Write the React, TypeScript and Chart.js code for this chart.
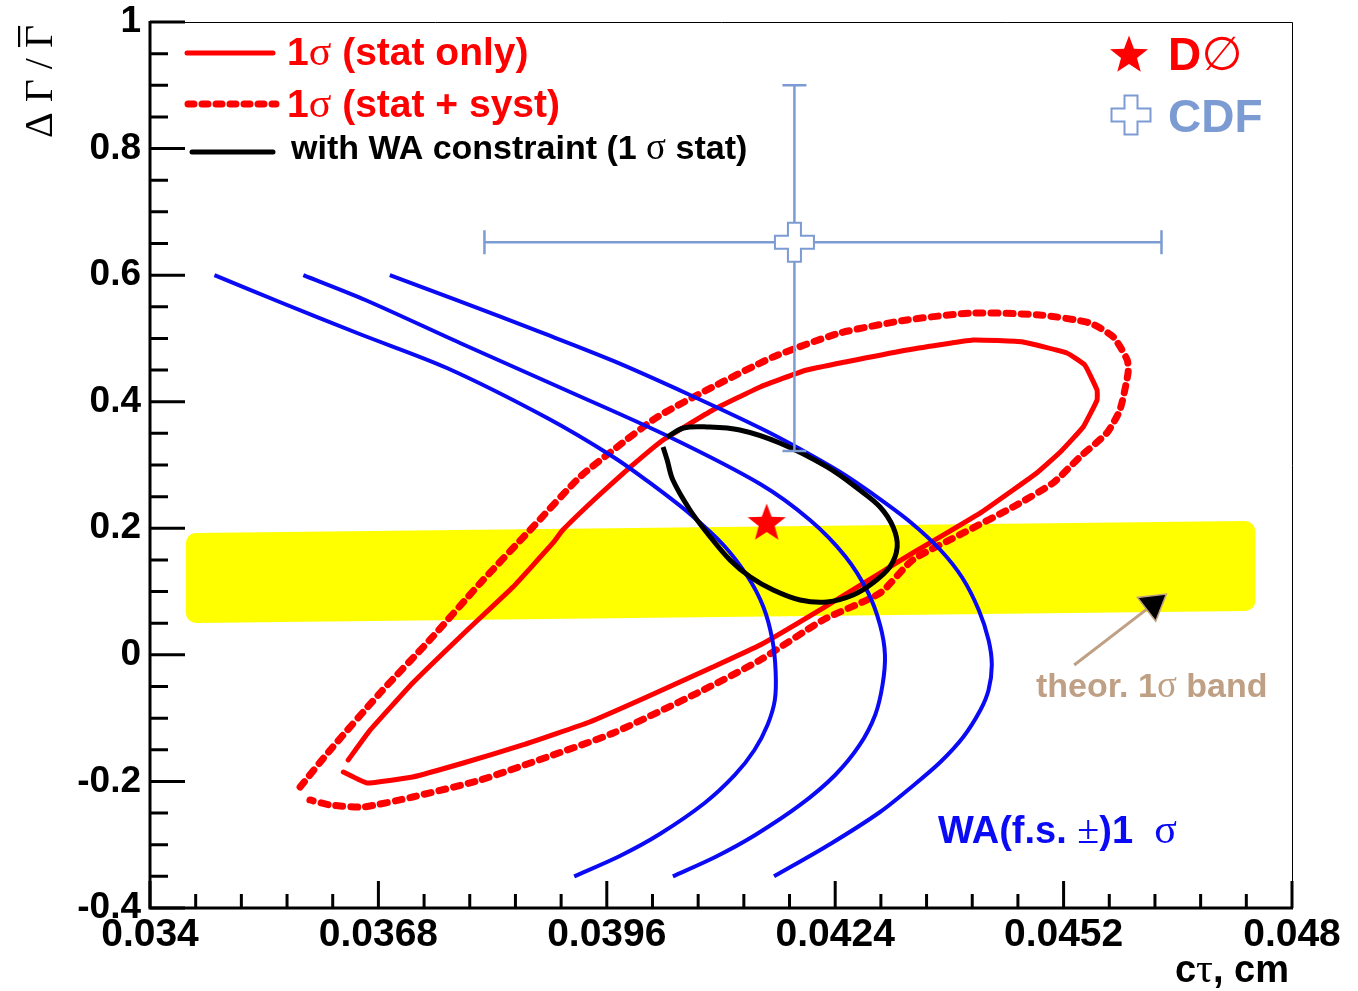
import React, { useEffect, useRef } from 'react';
import { Chart, registerables } from 'chart.js';

Chart.register(...registerables);

// ---- axes ----
const X_MIN = 0.034;
const X_MAX = 0.048;
const Y_MIN = -0.4;
const Y_MAX = 1.0;
const X_TICKS = [0.034, 0.0368, 0.0396, 0.0424, 0.0452, 0.048];
const X_TICK_LABELS = ['0.034', '0.0368', '0.0396', '0.0424', '0.0452', '0.048'];
const Y_TICKS = [-0.4, -0.2, 0, 0.2, 0.4, 0.6, 0.8, 1];
const Y_TICK_LABELS = ['-0.4', '-0.2', '0', '0.2', '0.4', '0.6', '0.8', '1'];
const X_DIVISIONS = 5;
const Y_DIVISIONS = 4;

// ---- DØ 1σ contour, statistical errors only (ct [cm], ΔΓ/Γ) ----
const STAT_ONLY: [number, number][] = [
  [0.03643, -0.1661], [0.03670, -0.1187], [0.03722, -0.0445], [0.03789, 0.0393],
  [0.03845, 0.1072], [0.03894, 0.1768], [0.03906, 0.1973], [0.03948, 0.2495],
  [0.03989, 0.2969], [0.04029, 0.3395], [0.04090, 0.3869], [0.04148, 0.4233],
  [0.04205, 0.4501], [0.04328, 0.4817], [0.04409, 0.4975], [0.04470, 0.4944],
  [0.04524, 0.4770], [0.04546, 0.4580], [0.04561, 0.4185], [0.04561, 0.4027],
  [0.04544, 0.3601], [0.04516, 0.3206], [0.04487, 0.2874], [0.04458, 0.2605],
  [0.04418, 0.2242], [0.04377, 0.1926], [0.04335, 0.1610], [0.04295, 0.1293],
  [0.04225, 0.0740], [0.04148, 0.0156], [0.04090, -0.0192], [0.04009, -0.0666],
  [0.03939, -0.1061], [0.03857, -0.1424], [0.03784, -0.1709], [0.03722, -0.1930],
  [0.03666, -0.2025], [0.03637, -0.1851],
];

// ---- DØ 1σ contour, statistical + systematic ----
const STAT_SYST: [number, number][] = [
  [0.03584, -0.2088], [0.03621, -0.1503], [0.03682, -0.0603], [0.03743, 0.0235],
  [0.03805, 0.1135], [0.03866, 0.1973], [0.03927, 0.2811], [0.03968, 0.3237],
  [0.04022, 0.3759], [0.04090, 0.4233], [0.04164, 0.4707], [0.04246, 0.5087],
  [0.04328, 0.5292], [0.04409, 0.5402], [0.04491, 0.5371], [0.04552, 0.5244],
  [0.04581, 0.5023], [0.04598, 0.4659], [0.04599, 0.4454], [0.04589, 0.3869],
  [0.04573, 0.3506], [0.04540, 0.3127], [0.04507, 0.2716], [0.04458, 0.2337],
  [0.04397, 0.1926], [0.04335, 0.1499], [0.04295, 0.0977], [0.04225, 0.0551],
  [0.04148, -0.0081], [0.04071, -0.0603], [0.03968, -0.1235], [0.03887, -0.1614],
  [0.03805, -0.1977], [0.03722, -0.2246], [0.03661, -0.2404], [0.03621, -0.2372],
  [0.03596, -0.2293],
];

// ---- 1σ stat contour with the world-average constraint ----
const WA_CONSTRAINED: [number, number][] = [
  [0.04034, 0.3443], [0.04054, 0.3585], [0.04083, 0.3601], [0.04123, 0.3553],
  [0.04172, 0.3348], [0.04230, 0.2969], [0.04270, 0.2605], [0.04295, 0.2337],
  [0.04311, 0.2021], [0.04316, 0.1704], [0.04307, 0.1389], [0.04286, 0.1135],
  [0.04262, 0.0946], [0.04230, 0.0835], [0.04197, 0.0867], [0.04164, 0.1025],
  [0.04136, 0.1230], [0.04111, 0.1499], [0.04083, 0.1926], [0.04062, 0.2289],
  [0.04041, 0.2763], [0.04034, 0.3079], [0.04029, 0.3285],
];

// ---- WA (flavour-specific ±1σ) curves ----
const WA_LOW: [number, number][] = [
  [0.03479, 0.600], [0.03559, 0.5576], [0.03657, 0.5070], [0.03764, 0.4533],
  [0.03887, 0.3743], [0.03968, 0.3127], [0.04013, 0.2716], [0.04062, 0.2226],
  [0.04103, 0.1736], [0.04133, 0.1230], [0.04152, 0.0756], [0.04163, 0.0235],
  [0.04167, -0.0271], [0.04166, -0.0713], [0.04157, -0.1108], [0.04141, -0.1503],
  [0.04117, -0.1898], [0.04080, -0.2341], [0.04025, -0.2831], [0.03976, -0.3178],
  [0.03920, -0.350],
];
const WA_MID: [number, number][] = [
  [0.03588, 0.600], [0.03664, 0.5607], [0.03780, 0.4928], [0.03915, 0.4154],
  [0.04037, 0.3443], [0.04148, 0.2700], [0.04209, 0.2131], [0.04252, 0.1562],
  [0.04280, 0.0993], [0.04295, 0.0472], [0.04301, -0.0002], [0.04298, -0.0476],
  [0.04289, -0.0950], [0.04270, -0.1424], [0.04240, -0.1898], [0.04197, -0.2372],
  [0.04142, -0.2846], [0.04093, -0.3194], [0.04041, -0.350],
];
const WA_HIGH: [number, number][] = [
  [0.03694, 0.600], [0.03776, 0.5607], [0.03878, 0.5102], [0.03968, 0.4644],
  [0.04062, 0.4106], [0.04148, 0.3585], [0.04188, 0.3316], [0.04246, 0.2890],
  [0.04286, 0.2542], [0.04332, 0.2100], [0.04369, 0.1657], [0.04396, 0.1215],
  [0.04416, 0.0709], [0.04428, 0.0235], [0.04432, -0.0160], [0.04428, -0.0555],
  [0.04418, -0.0871], [0.04397, -0.1298], [0.04369, -0.1693], [0.04335, -0.2072],
  [0.04295, -0.2483], [0.04234, -0.2988], [0.04165, -0.350],
];

// ---- measurements ----
const D0_POINT: [number, number] = [0.04156, 0.21];
const CDF_POINT: [number, number] = [0.0419, 0.652];
const CDF_ERR_X: [number, number] = [0.0038, 0.0045]; // minus, plus
const CDF_ERR_Y: [number, number] = [0.33, 0.248]; // minus, plus

// ---- theoretical 1σ band ----
const THEORY_X: [number, number] = [0.03444, 0.04755];
const THEORY_MID: [number, number] = [0.1215, 0.1404];
const THEORY_HALF_WIDTH = 0.071;
const ARROW_FROM: [number, number] = [0.04533, -0.016];
const ARROW_TO: [number, number] = [0.04646, 0.096];

// ---- colours & fonts ----
const RED = '#ff0000';
const BLUE = '#0a0af5';
const CDF_BLUE = '#7d9bd3';
const TAN = '#bfa085';
const YELLOW = '#ffff00';
const SANS = '"Liberation Sans", Arial, Helvetica, sans-serif';
const SERIF = '"Liberation Serif", "Times New Roman", serif';
const sansB = (s: number) => `bold ${s}px ${SANS}`;
const serif = (s: number) => `${s}px ${SERIF}`;

const toXY = (pts: [number, number][]) => pts.map(([x, y]) => ({ x, y }));

function makeStar(r: number, color: string): HTMLCanvasElement {
  const c = document.createElement('canvas');
  const s = Math.ceil(2 * r + 4);
  c.width = s;
  c.height = s;
  const g = c.getContext('2d')!;
  g.fillStyle = color;
  g.beginPath();
  for (let i = 0; i < 10; i++) {
    const rad = i % 2 === 0 ? r : r * 0.42;
    const a = -Math.PI / 2 + (i * Math.PI) / 5;
    g.lineTo(s / 2 + rad * Math.cos(a), s / 2 + 1.5 + rad * Math.sin(a));
  }
  g.closePath();
  g.fill();
  return c;
}

function makeCross(half: number, arm: number, color: string): HTMLCanvasElement {
  const c = document.createElement('canvas');
  const s = Math.ceil(2 * half + 4);
  c.width = s;
  c.height = s;
  const g = c.getContext('2d')!;
  const o = s / 2;
  const L = half;
  const a = arm;
  const pts = [
    [-a, -L], [a, -L], [a, -a], [L, -a], [L, a], [a, a],
    [a, L], [-a, L], [-a, a], [-L, a], [-L, -a], [-a, -a],
  ];
  g.beginPath();
  pts.forEach(([px, py], i) => (i ? g.lineTo(o + px, o + py) : g.moveTo(o + px, o + py)));
  g.closePath();
  g.fillStyle = '#ffffff';
  g.fill();
  g.strokeStyle = color;
  g.lineWidth = 2;
  g.stroke();
  return c;
}

type Run = [string, string];
function drawRuns(ctx: CanvasRenderingContext2D, x: number, y: number, runs: Run[], color: string, align: 'left' | 'right' = 'left') {
  ctx.save();
  ctx.fillStyle = color;
  ctx.textBaseline = 'alphabetic';
  ctx.textAlign = 'left';
  let total = 0;
  for (const [t, f] of runs) {
    ctx.font = f;
    total += ctx.measureText(t).width;
  }
  let cx = align === 'right' ? x - total : x;
  for (const [t, f] of runs) {
    ctx.font = f;
    ctx.fillText(t, cx, y);
    cx += ctx.measureText(t).width;
  }
  ctx.restore();
}

export default function App() {
  const canvasRef = useRef<HTMLCanvasElement | null>(null);

  useEffect(() => {
    const canvas = canvasRef.current;
    if (!canvas) return;

    const star = makeStar(20, RED);
    const cross = makeCross(19.5, 6.5, CDF_BLUE);

    // theoretical band under everything
    const theoryBand = {
      id: 'theoryBand',
      beforeDatasetsDraw(chart: any) {
        const { ctx, scales } = chart;
        const xs = scales.x;
        const ys = scales.y;
        const r = 10;
        const xl = xs.getPixelForValue(THEORY_X[0]) + r;
        const xr = xs.getPixelForValue(THEORY_X[1]) - r;
        const tl = ys.getPixelForValue(THEORY_MID[0] + THEORY_HALF_WIDTH) + r;
        const tr = ys.getPixelForValue(THEORY_MID[1] + THEORY_HALF_WIDTH) + r;
        const br = ys.getPixelForValue(THEORY_MID[1] - THEORY_HALF_WIDTH) - r;
        const bl = ys.getPixelForValue(THEORY_MID[0] - THEORY_HALF_WIDTH) - r;
        ctx.save();
        ctx.beginPath();
        ctx.moveTo(xl, tl);
        ctx.lineTo(xr, tr);
        ctx.lineTo(xr, br);
        ctx.lineTo(xl, bl);
        ctx.closePath();
        ctx.fillStyle = YELLOW;
        ctx.strokeStyle = YELLOW;
        ctx.lineWidth = 2 * r;
        ctx.lineJoin = 'round';
        ctx.fill();
        ctx.stroke();
        ctx.restore();
      },
    };

    // CDF error bars, drawn just before the CDF marker
    const errorBars = {
      id: 'errorBars',
      beforeDatasetDraw(chart: any, args: any) {
        if (chart.data.datasets[args.index].label !== 'CDF') return;
        const { ctx, scales } = chart;
        const xs = scales.x;
        const ys = scales.y;
        const cx = xs.getPixelForValue(CDF_POINT[0]);
        const cy = ys.getPixelForValue(CDF_POINT[1]);
        const x0 = xs.getPixelForValue(CDF_POINT[0] - CDF_ERR_X[0]);
        const x1 = xs.getPixelForValue(CDF_POINT[0] + CDF_ERR_X[1]);
        const y0 = ys.getPixelForValue(CDF_POINT[1] - CDF_ERR_Y[0]);
        const y1 = ys.getPixelForValue(CDF_POINT[1] + CDF_ERR_Y[1]);
        const cap = 12;
        ctx.save();
        ctx.strokeStyle = CDF_BLUE;
        ctx.lineWidth = 2.5;
        ctx.beginPath();
        ctx.moveTo(x0, cy); ctx.lineTo(x1, cy);
        ctx.moveTo(cx, y0); ctx.lineTo(cx, y1);
        ctx.moveTo(x0, cy - cap); ctx.lineTo(x0, cy + cap);
        ctx.moveTo(x1, cy - cap); ctx.lineTo(x1, cy + cap);
        ctx.moveTo(cx - cap, y0); ctx.lineTo(cx + cap, y0);
        ctx.moveTo(cx - cap, y1); ctx.lineTo(cx + cap, y1);
        ctx.stroke();
        ctx.restore();
      },
    };

    // arrow pointing at the theory band, frame, ticks, legends and labels
    const decorations = {
      id: 'decorations',
      afterDatasetsDraw(chart: any) {
        const { ctx, scales } = chart;
        const xs = scales.x;
        const ys = scales.y;
        const ax = xs.getPixelForValue(ARROW_FROM[0]);
        const ay = ys.getPixelForValue(ARROW_FROM[1]);
        const bx = xs.getPixelForValue(ARROW_TO[0]);
        const by = ys.getPixelForValue(ARROW_TO[1]);
        const len = Math.hypot(bx - ax, by - ay);
        const ux = (bx - ax) / len;
        const uy = (by - ay) / len;
        const headL = 25;
        const headW = 15;
        const hx = bx - ux * headL;
        const hy = by - uy * headL;
        ctx.save();
        ctx.strokeStyle = TAN;
        ctx.lineWidth = 3;
        ctx.beginPath();
        ctx.moveTo(ax, ay);
        ctx.lineTo(hx, hy);
        ctx.stroke();
        ctx.beginPath();
        ctx.moveTo(bx, by);
        ctx.lineTo(hx - uy * headW, hy + ux * headW);
        ctx.lineTo(hx + uy * headW, hy - ux * headW);
        ctx.closePath();
        ctx.fillStyle = '#000000';
        ctx.fill();
        ctx.lineWidth = 1.5;
        ctx.stroke();
        ctx.restore();
      },
      afterDraw(chart: any) {
        const { ctx, chartArea: a, scales } = chart;
        const xs = scales.x;
        const ys = scales.y;
        ctx.save();
        ctx.strokeStyle = '#000000';
        ctx.lineCap = 'butt';
        // thin top / right frame
        ctx.lineWidth = 1;
        ctx.beginPath();
        ctx.moveTo(a.left, a.top + 0.5);
        ctx.lineTo(a.right + 0.5, a.top + 0.5);
        ctx.lineTo(a.right + 0.5, a.bottom);
        ctx.stroke();
        // axes
        ctx.lineWidth = 3;
        ctx.beginPath();
        ctx.moveTo(a.left, a.top - 1);
        ctx.lineTo(a.left, a.bottom);
        ctx.lineTo(a.right + 1, a.bottom);
        ctx.stroke();
        // x ticks
        const xStep = (X_TICKS[1] - X_TICKS[0]) / X_DIVISIONS;
        const nx = Math.round((X_MAX - X_MIN) / xStep);
        ctx.beginPath();
        for (let i = 0; i <= nx; i++) {
          const px = xs.getPixelForValue(X_MIN + i * xStep);
          const l = i % X_DIVISIONS === 0 ? 27 : 14;
          ctx.moveTo(px, a.bottom);
          ctx.lineTo(px, a.bottom - l);
        }
        // y ticks
        const yStep = (Y_TICKS[1] - Y_TICKS[0]) / Y_DIVISIONS;
        const ny = Math.round((Y_MAX - Y_MIN) / yStep);
        for (let i = 0; i <= ny; i++) {
          const py = ys.getPixelForValue(Y_MIN + i * yStep);
          const l = i % Y_DIVISIONS === 0 ? 35 : 18;
          ctx.moveTo(a.left, py);
          ctx.lineTo(a.left + l, py);
        }
        ctx.stroke();
        ctx.restore();

        // axis titles
        drawRuns(ctx, a.right - 3, 982, [['c', sansB(38)], ['τ', serif(42)], [', cm', sansB(38)]], '#000000', 'right');
        ctx.save();
        ctx.translate(52, 138);
        ctx.rotate(-Math.PI / 2);
        ctx.font = serif(40);
        ctx.fillStyle = '#000000';
        ctx.textBaseline = 'alphabetic';
        ctx.textAlign = 'left';
        const pre = 'Δ Γ / ';
        ctx.fillText(pre + 'Γ', 0, 0);
        const w0 = ctx.measureText(pre).width;
        const wg = ctx.measureText('Γ').width;
        ctx.fillRect(w0 + 1, -34, wg - 2, 2.2);
        ctx.restore();

        // top-left legend
        ctx.save();
        ctx.lineCap = 'round';
        ctx.strokeStyle = RED;
        ctx.lineWidth = 5;
        ctx.beginPath();
        ctx.moveTo(187, 53);
        ctx.lineTo(273, 53);
        ctx.stroke();
        ctx.lineWidth = 7;
        ctx.setLineDash([6, 8]);
        ctx.beginPath();
        ctx.moveTo(188, 104);
        ctx.lineTo(276, 104);
        ctx.stroke();
        ctx.setLineDash([]);
        ctx.strokeStyle = '#000000';
        ctx.lineWidth = 5;
        ctx.beginPath();
        ctx.moveTo(192, 152);
        ctx.lineTo(273, 152);
        ctx.stroke();
        ctx.restore();
        drawRuns(ctx, 287, 65, [['1', sansB(39)], ['σ', serif(42)], [' (stat only)', sansB(39)]], RED);
        drawRuns(ctx, 287, 117, [['1', sansB(39)], ['σ', serif(42)], [' (stat + syst)', sansB(39)]], RED);
        drawRuns(ctx, 291, 159, [['with WA constraint (1 ', sansB(34)], ['σ', serif(37)], [' stat)', sansB(34)]], '#000000');

        // top-right legend
        ctx.drawImage(star, 1129 - star.width / 2, 54 - star.height / 2);
        ctx.drawImage(cross, 1131 - cross.width / 2, 115 - cross.height / 2);
        drawRuns(ctx, 1168, 70, [['D', sansB(46)], ['∅', `47px "DejaVu Sans", sans-serif`]], RED);
        drawRuns(ctx, 1168, 132, [['CDF', sansB(46)]], CDF_BLUE);

        // annotations
        drawRuns(ctx, 1036, 697, [['theor. 1', sansB(34)], ['σ', serif(37)], [' band', sansB(34)]], TAN);
        drawRuns(ctx, 938, 843, [['WA(f.s. ', sansB(38)], ['±', serif(40)], [')1  ', sansB(38)], ['σ', serif(42)]], BLUE);
      },
    };

    const chart = new Chart(canvas, {
      type: 'scatter',
      data: {
        datasets: [
          {
            label: 'DØ',
            data: toXY([D0_POINT]),
            pointStyle: star as any,
            pointRadius: 10,
            showLine: false,
            order: 0,
          },
          {
            label: 'CDF',
            data: toXY([CDF_POINT]),
            pointStyle: cross as any,
            pointRadius: 10,
            showLine: false,
            order: 1,
          },
          {
            label: 'with WA constraint (1 σ stat)',
            data: toXY(WA_CONSTRAINED),
            showLine: true,
            borderColor: '#000000',
            borderWidth: 5,
            pointRadius: 0,
            tension: 0.35,
            order: 2,
          },
          ...[WA_LOW, WA_MID, WA_HIGH].map((pts, i) => ({
            label: `WA(f.s.±)1 σ ${i}`,
            data: toXY(pts),
            showLine: true,
            borderColor: BLUE,
            borderWidth: 4,
            pointRadius: 0,
            tension: 0.3,
            order: 3,
          })),
          {
            label: '1σ (stat only)',
            data: toXY(STAT_ONLY),
            showLine: true,
            borderColor: RED,
            borderWidth: 5,
            pointRadius: 0,
            tension: 0.1,
            borderJoinStyle: 'round',
            borderCapStyle: 'round',
            order: 4,
          },
          {
            label: '1σ (stat + syst)',
            data: toXY(STAT_SYST),
            showLine: true,
            borderColor: RED,
            borderWidth: 7,
            borderDash: [7, 8],
            borderCapStyle: 'round',
            pointRadius: 0,
            tension: 0.2,
            order: 5,
          },
        ] as any,
      },
      options: {
        animation: false,
        responsive: true,
        maintainAspectRatio: false,
        events: [],
        layout: { padding: { top: 22, right: 66, left: 0, bottom: 0 } },
        plugins: { legend: { display: false }, tooltip: { enabled: false } },
        scales: {
          x: {
            type: 'linear',
            min: X_MIN,
            max: X_MAX,
            afterFit: (s: any) => { s.height = 83; s.paddingLeft = 0; s.paddingRight = 0; },
            afterBuildTicks: (s: any) => { s.ticks = X_TICKS.map((v) => ({ value: v })); },
            ticks: {
              callback: (_v: any, i: number) => X_TICK_LABELS[i],
              font: { family: SANS, size: 39, weight: 'bold' },
              color: '#000000',
              padding: 4,
              maxRotation: 0,
              autoSkip: false,
            },
            grid: { display: false, drawTicks: false },
            border: { display: false },
          },
          y: {
            type: 'linear',
            min: Y_MIN,
            max: Y_MAX,
            afterFit: (s: any) => { s.width = 150; s.paddingTop = 0; s.paddingBottom = 0; },
            afterBuildTicks: (s: any) => { s.ticks = Y_TICKS.map((v) => ({ value: v })); },
            ticks: {
              callback: (_v: any, i: number) => Y_TICK_LABELS[i],
              font: { family: SANS, size: 37, weight: 'bold' },
              color: '#000000',
              padding: 9,
              autoSkip: false,
            },
            grid: { display: false, drawTicks: false },
            border: { display: false },
          },
        },
      } as any,
      plugins: [theoryBand, errorBars, decorations],
    });

    return () => chart.destroy();
  }, []);

  return (
    <div style={{ position: 'absolute', left: 0, top: 0, width: 1358, height: 991, background: '#ffffff' }}>
      <canvas ref={canvasRef} />
    </div>
  );
}
